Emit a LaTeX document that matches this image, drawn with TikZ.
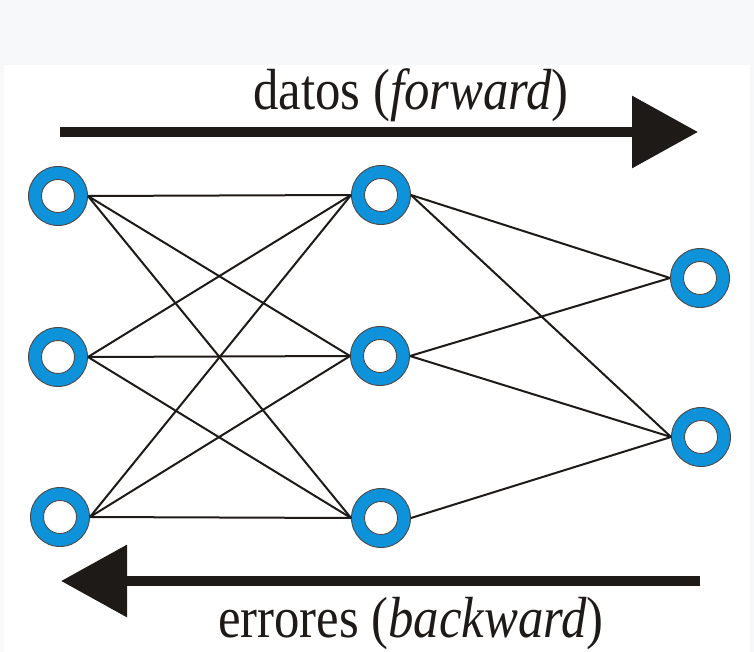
\documentclass[tikz,border=0pt]{standalone}
\usepackage{fontspec}
\setmainfont{Liberation Serif}
\usetikzlibrary{arrows.meta}
\definecolor{ringblue}{RGB}{14,146,218}
\definecolor{bandgray}{RGB}{247,248,250}
\definecolor{inkdark}{RGB}{30,26,24}
\begin{document}
\begin{tikzpicture}[x=1pt,y=-1pt,
  neuron/.style={circle,minimum size=59pt,inner sep=0pt,fill=ringblue,draw=inkdark!80,line width=0.9pt},
  link/.style={draw=inkdark,line width=2pt},
  flow/.style={draw=inkdark,line width=10pt,-{Triangle[length=66pt,width=70pt]},inkdark},
  caption/.style={inner sep=0pt,anchor=base,text=inkdark,font=\fontsize{58}{60}\selectfont}]
\useasboundingbox (0,0) rectangle (754,652);
\fill[bandgray] (0,0) rectangle (754,652);
\fill[white] (4,65) rectangle (750,652);
% neurons
\node[neuron] (L1) at (58,196) {};
\node[neuron] (L2) at (58,357) {};
\node[neuron] (L3) at (60,517) {};
\node[neuron] (M1) at (381,195) {};
\node[neuron] (M2) at (380,356) {};
\node[neuron] (M3) at (381,518) {};
\node[neuron] (R1) at (700,278) {};
\node[neuron] (R2) at (701,437) {};
% links
\foreach \a in {L1,L2,L3}
  \foreach \b in {M1,M2,M3}
    \draw[link] (\a.east) -- (\b.west);
\draw[link] (M1.east) -- (R1.west);
\draw[link] (M1.east) -- (R2.west);
\draw[link] (M2.east) -- (R1.west);
\draw[link] (M2.east) -- (R2.west);
\draw[link] (M3.east) -- (R2.west);
\foreach \n in {L1,L2,L3,M1,M2,M3,R1,R2}
  \filldraw[fill=white,draw=inkdark!80,line width=0.9pt] (\n.center) circle (16.5);
% arrows
\coordinate (fwdA) at (60,132);
\coordinate (fwdB) at (698,132);
\coordinate (bwdA) at (700,581);
\coordinate (bwdB) at (61,581);
\draw[flow] (fwdA) -- (fwdB);
\draw[flow] (bwdA) -- (bwdB);
% captions
\node[caption] (fwdtxt) at (411,110) {\scalebox{0.875}[1]{datos (\textit{forward})}};
\node[caption] (bwdtxt) at (411,637) {\scalebox{0.875}[1]{errores (\textit{backward})}};
\end{tikzpicture}
\end{document}
